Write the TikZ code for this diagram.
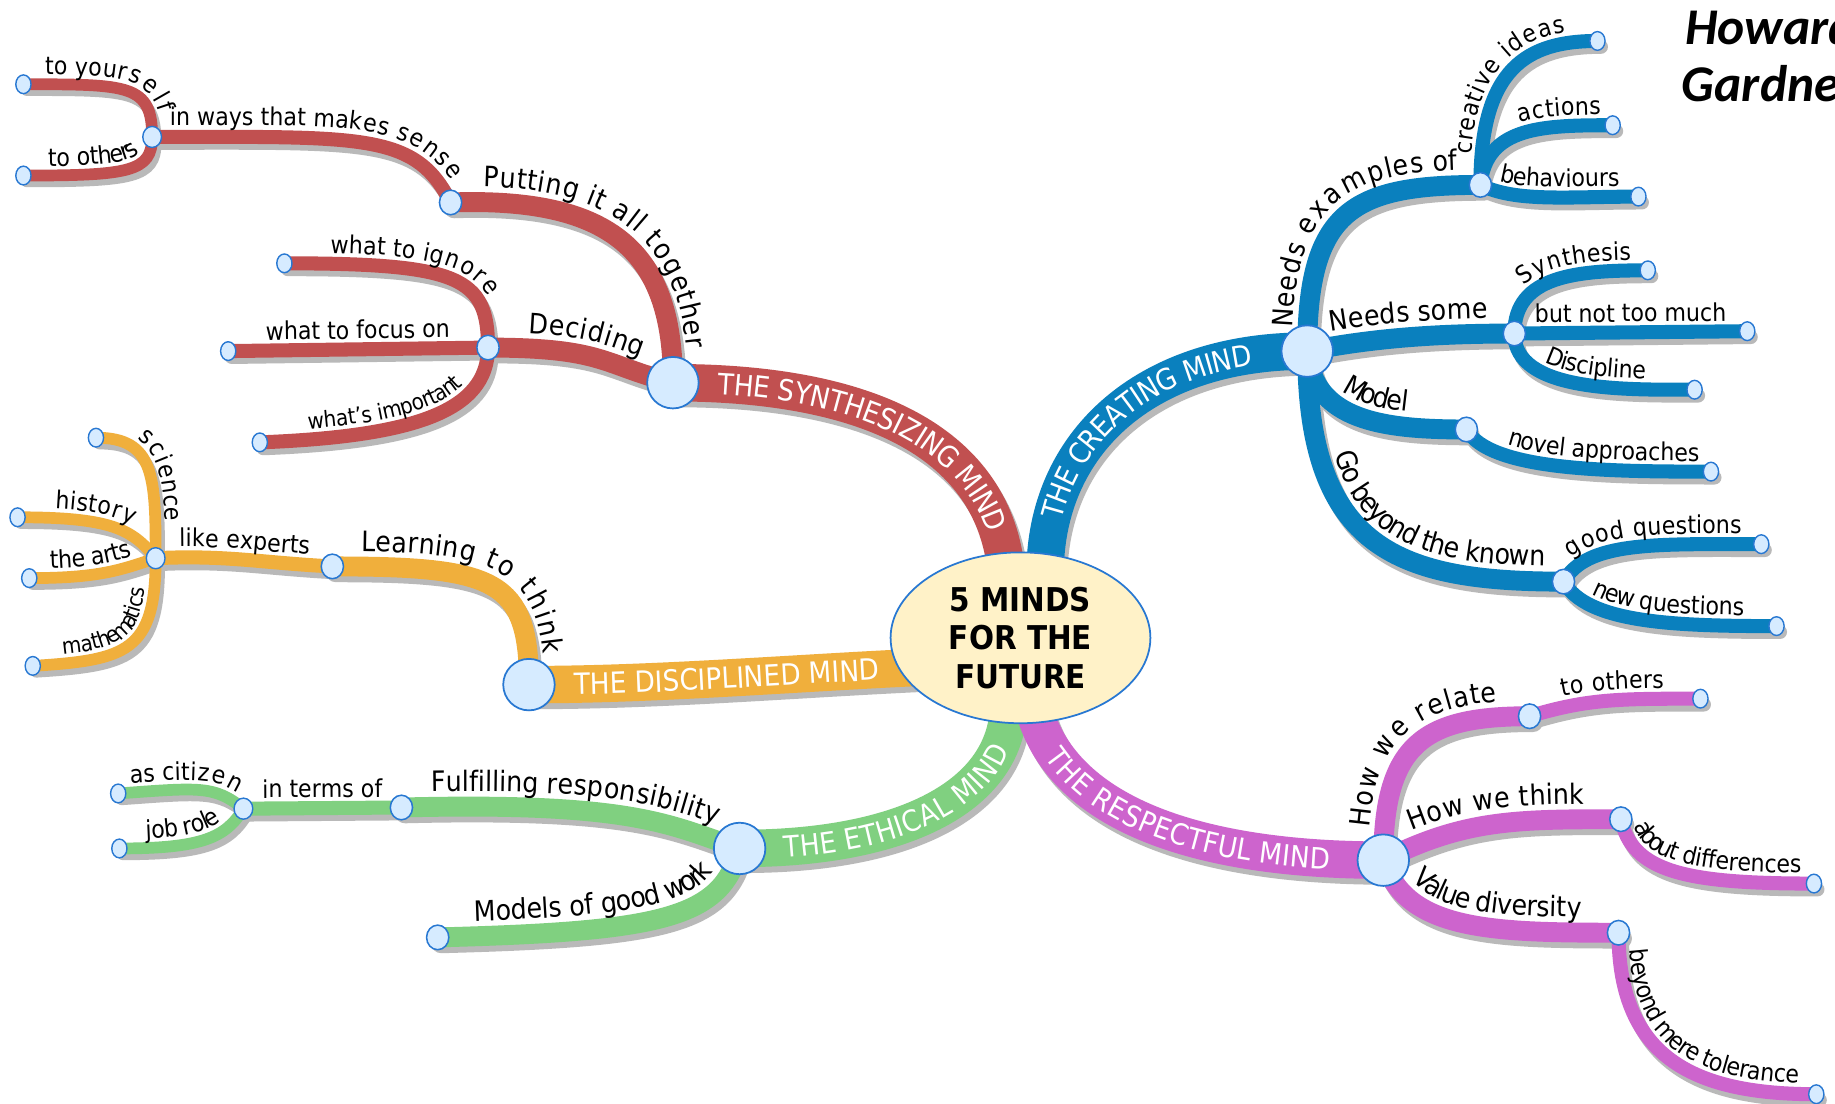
\documentclass[tikz,border=0pt]{standalone}
\usepackage{fontspec}
\setmainfont{DejaVu Sans Condensed}
\newfontfamily\carl{Carlito}
\usetikzlibrary{decorations.text,shapes.geometric}
\pgfdeclarelayer{bgl}
\pgfdeclarelayer{shd}
\pgfdeclarelayer{txt}
\pgfdeclarelayer{top}
\pgfsetlayers{bgl,shd,main,txt,top}
\definecolor{cR}{RGB}{193,80,80}
\definecolor{cB}{RGB}{10,128,190}
\definecolor{cO}{RGB}{240,175,60}
\definecolor{cG}{RGB}{128,208,128}
\definecolor{cM}{RGB}{205,100,205}
\definecolor{cShd}{RGB}{185,185,185}
\definecolor{cFill}{RGB}{214,235,255}
\definecolor{cLine}{RGB}{40,120,210}
\definecolor{cCream}{RGB}{255,242,200}
\newcommand\lvA{\fontsize{24}{28}\selectfont}
\newcommand\lvB{\fontsize{21}{25}\selectfont}
\newcommand\lvS{\fontsize{19}{23}\selectfont}
\newcommand\lvM{\fontsize{25}{29}\selectfont\color{white}}
\newcommand\brnch[5]{%
  \begin{pgfonlayer}{shd}
    \path[draw=cShd, line width=#2, line cap=round, transform canvas={shift={(3pt,-5pt)}}] #5;
  \end{pgfonlayer}
  \path[draw=#1, line width=#2, line cap=round] #5;
  \begin{pgfonlayer}{txt}
    \path[decorate, decoration={text along path, text align=center, #3, text={#4}}] #5;
  \end{pgfonlayer}
}
\tikzset{
  bigc/.style={circle, draw=cLine, fill=cFill, line width=1.5pt, minimum size=44pt, inner sep=0pt},
  midc/.style={ellipse, draw=cLine, fill=cFill, line width=1.3pt, minimum width=19pt, minimum height=21pt, inner sep=0pt},
  smc/.style={ellipse, draw=cLine, fill=cFill, line width=1.2pt, minimum width=16pt, minimum height=18pt, inner sep=0pt},
  leafc/.style={ellipse, draw=cLine, fill=cFill, line width=1.2pt, minimum width=13pt, minimum height=16pt, inner sep=0pt},
}
\begin{document}
\begin{tikzpicture}[x=1pt,y=-1pt]
\begin{pgfonlayer}{bgl}
\fill[white] (0,0) rectangle (1568,942.6);
\end{pgfonlayer}
\useasboundingbox (0,0) rectangle (1568,942.6);
\begin{pgfonlayer}{top}
\node[ellipse, draw=cLine, fill=cCream, line width=1.5pt, minimum width=222pt, minimum height=146pt, align=center, font=\bfseries\fontsize{28}{33}\selectfont] (ctr) at (872,545) {5 MINDS\\FOR THE\\FUTURE};
\node[bigc] (syn) at (575,327) {};
\node[bigc] (cre) at (1117,300) {};
\node[bigc] (dis) at (452,585) {};
\node[bigc] (eth) at (632,725) {};
\node[bigc] (res) at (1182,735) {};
% red
\node[midc] (put) at (385,173) {};
\node[smc] (sense) at (130,117) {};
\node[leafc] (yours) at (20,72) {};
\node[leafc] (toot) at (20,150) {};
\node[midc] (dec) at (417,297) {};
\node[leafc] (ign) at (243,225) {};
\node[leafc] (foc) at (195,300) {};
\node[leafc] (imp) at (222,378) {};
% blue
\node[midc] (ex) at (1265,158) {};
\node[leafc] (crid) at (1365,35) {};
\node[leafc] (act) at (1378,107) {};
\node[leafc] (beh) at (1400,168) {};
\node[midc] (some) at (1294,285) {};
\node[leafc] (synt) at (1408,231) {};
\node[leafc] (btm) at (1493,283) {};
\node[leafc] (disc) at (1448,333) {};
\node[midc] (mod) at (1253,367) {};
\node[leafc] (nov) at (1462,403) {};
\node[midc] (gob) at (1336,497) {};
\node[leafc] (gq) at (1505,465) {};
\node[leafc] (nq) at (1518,535) {};
% orange
\node[midc] (lt) at (284,484) {};
\node[smc] (le) at (133,477) {};
\node[leafc] (sci) at (82,374) {};
\node[leafc] (his) at (15,442) {};
\node[leafc] (arts) at (25,494) {};
\node[leafc] (math) at (28,569) {};
% green
\node[midc] (ful) at (343,690) {};
\node[smc] (itof) at (208,691) {};
\node[leafc] (cit) at (101,678) {};
\node[leafc] (job) at (102,725) {};
\node[midc] (mgw) at (374,801) {};
% magenta
\node[midc] (rel) at (1307,612) {};
\node[leafc] (rot) at (1453,597) {};
\node[midc] (thk) at (1385,700) {};
\node[leafc] (dif) at (1550,755) {};
\node[midc] (val) at (1383,797) {};
\node[leafc] (tol) at (1552,935) {};
% title
\node[anchor=base west, inner sep=0pt, font=\carl\bfseries\itshape\fontsize{44}{52}\selectfont] (hg1) at (1440,38) {Howard};
\node[anchor=base west, inner sep=0pt, font=\carl\bfseries\itshape\fontsize{44}{52}\selectfont] (hg2) at (1437,87) {Gardner};
\end{pgfonlayer}
\coordinate (cS) at (860,490);
\coordinate (cC) at (893,490);
\coordinate (cD) at (790,570);
\coordinate (cE) at (862,600);
\coordinate (cF) at (882,600);
% main bands
\brnch{cR}{32pt}{raise=-9pt}{|\lvM|THE SYNTHESIZING MIND}{(syn.center) .. controls +(170,0) and +(-10,-110) .. (cS)}
\brnch{cB}{32pt}{raise=-9pt}{|\lvM|THE CREATING MIND}{(cC) .. controls +(0,-110) and +(-140,0) .. (cre.center)}
\brnch{cO}{32pt}{raise=-9pt}{|\lvM|THE DISCIPLINED MIND}{(dis.center) .. controls +(110,0) and +(-110,5) .. (cD)}
\brnch{cG}{32pt}{raise=-9pt}{|\lvM|THE ETHICAL MIND}{(eth.center) .. controls +(140,0) and +(0,80) .. (cE)}
\brnch{cM}{32pt}{raise=-9pt}{|\lvM|THE RESPECTFUL MIND}{(cF) .. controls +(20,90) and +(-170,0) .. (res.center)}
% red
\brnch{cR}{17pt}{raise=13pt}{|\lvA|Putting it all together}{(put.center) .. controls +(140,-5) and +(0,-110) .. (syn.center)}
\brnch{cR}{12pt}{raise=10pt}{|\lvB|in ways that makes sense}{(sense.center) .. controls +(180,0) and +(-30,-60) .. (put.center)}
\brnch{cR}{10pt}{raise=8pt}{|\lvB|to yourself}{(yours.center) .. controls +(90,0) and +(0,-45) .. (sense.center)}
\brnch{cR}{10pt}{raise=8pt}{|\lvB|to others}{(toot.center) .. controls +(90,0) and +(0,30) .. (sense.center)}
\brnch{cR}{17pt}{raise=13pt}{|\lvA|Deciding}{(dec.center) .. controls +(100,0) and +(-60,-15) .. (syn.center)}
\brnch{cR}{12pt}{raise=9pt}{|\lvB|what to ignore}{(ign.center) .. controls +(150,0) and +(0,-60) .. (dec.center)}
\brnch{cR}{12pt}{raise=9pt}{|\lvB|what to focus on}{(foc.center) -- (dec.center)}
\brnch{cR}{12pt}{raise=9pt}{|\lvS|what's important}{(imp.center) .. controls +(130,-5) and +(0,55) .. (dec.center)}
% blue
\brnch{cB}{17pt}{raise=13pt}{|\lvA|Needs examples of}{(cre.center) .. controls +(0,-120) and +(-110,0) .. (ex.center)}
\brnch{cB}{12pt}{raise=9pt}{|\lvB|creative ideas}{(ex.center) .. controls +(0,-100) and +(-60,0) .. (crid.center)}
\brnch{cB}{12pt}{raise=9pt, text align={right, right indent=10pt}}{|\lvB|actions}{(ex.center) .. controls +(5,-50) and +(-60,0) .. (act.center)}
\brnch{cB}{12pt}{raise=9pt}{|\lvB|behaviours}{(ex.center) .. controls +(30,15) and +(-60,0) .. (beh.center)}
\brnch{cB}{17pt}{raise=13pt}{|\lvA|Needs some}{(cre.center) .. controls +(60,-12) and +(-60,0) .. (some.center)}
\brnch{cB}{12pt}{raise=9pt, text align={right, right indent=14pt}}{|\lvB|Synthesis}{(some.center) .. controls +(0,-50) and +(-60,0) .. (synt.center)}
\brnch{cB}{12pt}{raise=9pt}{|\lvB|but not too much}{(some.center) -- (btm.center)}
\brnch{cB}{12pt}{raise=9pt}{|\lvB|Discipline}{(some.center) .. controls +(0,50) and +(-60,0) .. (disc.center)}
\brnch{cB}{17pt}{raise=13pt}{|\lvA|Model}{(cre.center) .. controls +(5,60) and +(-70,0) .. (mod.center)}
\brnch{cB}{12pt}{raise=9pt, text align={right, right indent=10pt}}{|\lvB|novel approaches}{(mod.center) .. controls +(20,35) and +(-90,0) .. (nov.center)}
\brnch{cB}{17pt}{raise=13pt, text align={right, right indent=16pt}}{|\lvA|Go beyond the known}{(cre.center) .. controls +(0,170) and +(-140,0) .. (gob.center)}
\brnch{cB}{12pt}{raise=9pt}{|\lvB|good questions}{(gob.center) .. controls +(20,-35) and +(-90,0) .. (gq.center)}
\brnch{cB}{12pt}{raise=9pt}{|\lvB|new questions}{(gob.center) .. controls +(20,35) and +(-90,0) .. (nq.center)}
% orange
\brnch{cO}{17pt}{raise=13pt}{|\lvA|Learning to think}{(lt.center) .. controls +(140,0) and +(0,-90) .. (dis.center)}
\brnch{cO}{12pt}{raise=9pt}{|\lvB|like experts}{(le.center) .. controls +(60,-3) and +(-60,-3) .. (lt.center)}
\brnch{cO}{10pt}{raise=8pt}{|\lvB|science}{(sci.center) .. controls +(50,0) and +(0,-70) .. (le.center)}
\brnch{cO}{10pt}{raise=8pt}{|\lvB|history}{(his.center) .. controls +(80,0) and +(-20,-25) .. (le.center)}
\brnch{cO}{10pt}{raise=8pt}{|\lvB|the arts}{(arts.center) .. controls +(60,0) and +(-30,10) .. (le.center)}
\brnch{cO}{10pt}{raise=8pt}{|\lvS|mathematics}{(math.center) .. controls +(80,-5) and +(0,80) .. (le.center)}
% green
\brnch{cG}{17pt}{raise=13pt}{|\lvA|Fulfilling responsibility}{(ful.center) .. controls +(200,-5) and +(-60,-20) .. (eth.center)}
\brnch{cG}{12pt}{raise=9pt}{|\lvB|in terms of}{(itof.center) -- (ful.center)}
\brnch{cG}{10pt}{raise=8pt}{|\lvB|as citizen}{(cit.center) .. controls +(70,-5) and +(-25,-20) .. (itof.center)}
\brnch{cG}{10pt}{raise=8pt}{|\lvB|job role}{(job.center) .. controls +(70,0) and +(-15,25) .. (itof.center)}
\brnch{cG}{17pt}{raise=13pt}{|\lvA|Models of good work}{(mgw.center) .. controls +(190,-5) and +(-15,60) .. (eth.center)}
% magenta
\brnch{cM}{17pt}{raise=13pt}{|\lvA|How we relate}{(res.center) .. controls +(0,-100) and +(-90,0) .. (rel.center)}
\brnch{cM}{12pt}{raise=9pt}{|\lvB|to others}{(rel.center) .. controls +(50,-15) and +(-70,0) .. (rot.center)}
\brnch{cM}{17pt}{raise=13pt}{|\lvA|How we think}{(res.center) .. controls +(70,-35) and +(-90,0) .. (thk.center)}
\brnch{cM}{12pt}{raise=9pt}{|\lvB|about differences}{(thk.center) .. controls +(10,45) and +(-110,0) .. (dif.center)}
\brnch{cM}{17pt}{raise=13pt}{|\lvA|Value diversity}{(res.center) .. controls +(20,60) and +(-110,0) .. (val.center)}
\brnch{cM}{12pt}{raise=9pt}{|\lvB|beyond mere tolerance}{(val.center) .. controls +(0,110) and +(-100,0) .. (tol.center)}
\end{tikzpicture}
\end{document}
